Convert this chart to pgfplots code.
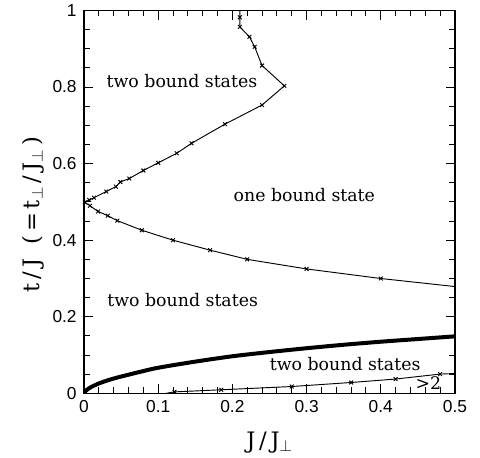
\documentclass[border=0pt]{standalone}
\usepackage{fontspec}
\setmainfont{DejaVu Serif}
\newfontfamily\ticksf{Liberation Sans}
\usepackage{pgfplots}
\pgfplotsset{compat=1.18}

\begin{document}
\begin{tikzpicture}
\begin{axis}[
    scale only axis,
    width=278.25pt, height=287.25pt,
    xmin=0, xmax=0.5, ymin=0, ymax=1,
    xtick={0,0.1,0.2,0.3,0.4,0.5},
    ytick={0,0.2,0.4,0.6,0.8,1},
    minor x tick num=4,
    minor y tick num=3,
    tick pos=both,
    tick align=inside,
    major tick length=7pt,
    minor tick length=4.5pt,
    every tick/.style={black, line width=0.7pt},
    axis line style={line width=1.2pt},
    /pgf/number format/assume math mode=true,
    ticklabel style={font=\ticksf\fontsize{13}{15}\selectfont},
    yticklabel style={xshift=-2pt},
    xticklabel style={yshift=-2pt},
    xlabel={J\,/\,J$_\perp$},
    ylabel={t\,/\,J \ (\,=\,t$_\perp$\,/\,J$_\perp$\,)},
    label style={font=\fontsize{17}{19}\selectfont},
    xlabel style={at={(axis description cs:0.5,-0.1436)}, anchor=base},
    ylabel style={at={(axis description cs:-0.1375,0.467)}, anchor=center},
]

% loop: upper branch from the top down to (0,0.5), then out to J=0.5
\addplot[black, line width=0.7pt, mark=x, mark size=2pt,
    mark indices={2,3,4,5,6,7,8,9,10,11,12,13,14,15,16,17,18,19,20,21,22,23,24,25,26,27,28,29,30}]
coordinates {
    (0.210, 1.000)
    (0.210, 0.982)
    (0.210, 0.957)
    (0.223, 0.931)
    (0.230, 0.905)
    (0.240, 0.856)
    (0.270, 0.803)
    (0.240, 0.753)
    (0.190, 0.703)
    (0.145, 0.653)
    (0.125, 0.627)
    (0.100, 0.602)
    (0.080, 0.582)
    (0.061, 0.561)
    (0.049, 0.552)
    (0.043, 0.540)
    (0.030, 0.527)
    (0.0135, 0.511)
    (0.007, 0.505)
    (0.001, 0.499)
    (0.008, 0.490)
    (0.019, 0.475)
    (0.032, 0.464)
    (0.045, 0.451)
    (0.078, 0.426)
    (0.120, 0.400)
    (0.170, 0.374)
    (0.220, 0.350)
    (0.300, 0.325)
    (0.400, 0.300)
    (0.500, 0.279)
};

% thick boundary
\addplot[black, line width=3pt, smooth] coordinates {
    (0, 0)
    (0.002, 0.006)
    (0.005, 0.011)
    (0.010, 0.017)
    (0.020, 0.026)
    (0.035, 0.036)
    (0.050, 0.044)
    (0.075, 0.056)
    (0.100, 0.067)
    (0.150, 0.083)
    (0.200, 0.097)
    (0.250, 0.108)
    (0.300, 0.118)
    (0.350, 0.127)
    (0.400, 0.135)
    (0.450, 0.142)
    (0.500, 0.149)
};

% lower boundary
\addplot[black, line width=0.7pt, mark=x, mark size=2pt,
    mark indices={2,3,4,5,6,7}]
coordinates {
    (0.110, 0.000)
    (0.122, 0.004)
    (0.185, 0.0095)
    (0.280, 0.018)
    (0.360, 0.0285)
    (0.420, 0.0375)
    (0.480, 0.0505)
    (0.500, 0.052)
};

\begin{scope}[every node/.style={font=\fontsize{13}{15}\selectfont, anchor=base}]
\node at (axis cs:0.132,0.800) {two bound states};
\node at (axis cs:0.297,0.500) {one bound state};
\node at (axis cs:0.133,0.227) {two bound states};
\node at (axis cs:0.352,0.059) {two bound states};
\node at (axis cs:0.464,0.009) {>2};
\end{scope}

\coordinate (bl) at (rel axis cs:-0.2264,-0.1619);
\coordinate (tr) at (rel axis cs:1.0674,1.0209);
\end{axis}
\path (bl) rectangle (tr);
\end{tikzpicture}
\end{document}
